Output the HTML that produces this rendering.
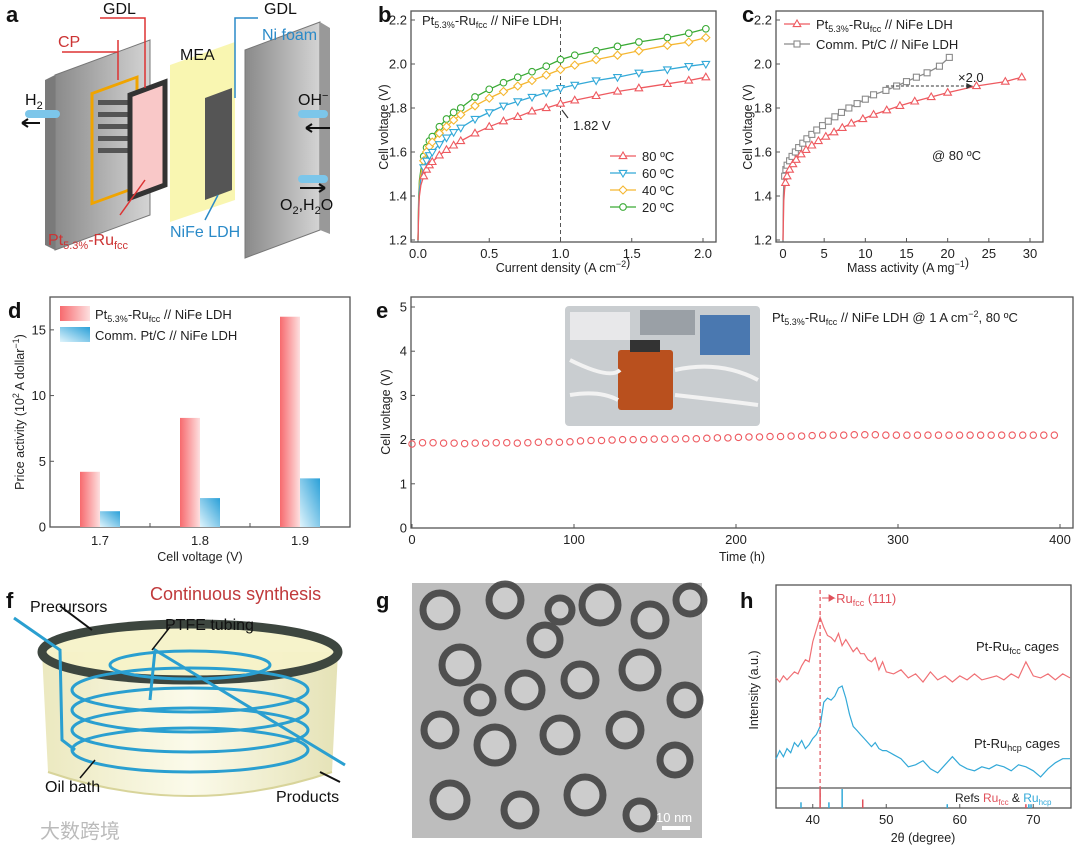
<!DOCTYPE html>
<html><head><meta charset="utf-8"><style>
html,body{margin:0;padding:0;background:#fff;}
svg{display:block;font-family:"Liberation Sans","Noto Sans CJK SC",sans-serif;}
.tk{font-size:13px;fill:#222;}
.at{font-size:12.5px;fill:#222;}
.pl{font-size:22px;font-weight:bold;fill:#111;}
</style></head><body>
<svg id="fig" width="1080" height="856" viewBox="0 0 1080 856" xmlns="http://www.w3.org/2000/svg">
<defs>
<linearGradient id="gr" x1="0" x2="1"><stop offset="0" stop-color="#f76a6e"/><stop offset="1" stop-color="#fde0e0"/></linearGradient>
<linearGradient id="gb" x1="1" x2="0" y1="0" y2="1"><stop offset="0" stop-color="#2aa0d8"/><stop offset="1" stop-color="#e0f4fc"/></linearGradient>
<linearGradient id="plate" x1="0" x2="1"><stop offset="0" stop-color="#8a8a8a"/><stop offset="1" stop-color="#d4d4d4"/></linearGradient>
<linearGradient id="oil" x1="0" x2="1"><stop offset="0" stop-color="#e9e6b8"/><stop offset="0.5" stop-color="#fbfae8"/><stop offset="1" stop-color="#e2dfae"/></linearGradient>
</defs>

<!-- Panel a schematic -->
<g>
<text class="pl" x="6" y="22">a</text>
<polygon points="55,75 150,40 150,215 55,250" fill="url(#plate)" stroke="#777"/>
<polygon points="45,80 55,75 55,250 45,245" fill="#7a7a7a"/>
<rect x="92" y="92" width="45" height="110" fill="none" stroke="#f0a400" stroke-width="3" transform="skewY(-20) translate(0,35)"/>
<g fill="#555"><rect x="98" y="100" width="32" height="5"/><rect x="98" y="112" width="32" height="5"/><rect x="98" y="124" width="32" height="5"/><rect x="98" y="136" width="32" height="5"/><rect x="98" y="148" width="32" height="5"/></g>
<polygon points="130,95 165,82 165,185 130,198" fill="#f9c8c8" stroke="#333" stroke-width="5"/>
<polygon points="170,65 235,42 235,200 170,222" fill="#f8f5a8" opacity="0.9"/>
<polygon points="205,98 232,88 232,190 205,200" fill="#555"/>
<polygon points="245,50 320,22 320,230 245,258" fill="url(#plate)" stroke="#777"/>
<polygon points="320,22 330,28 330,234 320,230" fill="#999"/>
<rect x="25" y="110" width="35" height="8" rx="4" fill="#7cc6ea"/>
<rect x="298" y="110" width="30" height="8" rx="4" fill="#7cc6ea"/>
<rect x="298" y="175" width="30" height="8" rx="4" fill="#7cc6ea"/>
<path d="M40 123 H22 M22 123 l6 -4 M22 123 l6 4" stroke="#111" stroke-width="2" fill="none"/>
<path d="M306 128 H330 M306 128 l6 -4 M306 128 l6 4" stroke="#111" stroke-width="2" fill="none"/>
<path d="M300 188 H325 M325 188 l-6 -4 M325 188 l-6 4" stroke="#111" stroke-width="2" fill="none"/>
<path d="M62 52 H118 V40 M118 52 V80" stroke="#d33" stroke-width="1.5" fill="none"/>
<path d="M100 18 H145 V88" stroke="#d33" stroke-width="1.5" fill="none"/>
<path d="M258 18 H235 V98" stroke="#2a8ac8" stroke-width="1.5" fill="none"/>
<path d="M120 215 L145 180" stroke="#d33" stroke-width="1.5"/>
<path d="M205 220 L218 195" stroke="#2a8ac8" stroke-width="1.5"/>
<text x="103" y="14" font-size="16" fill="#111">GDL</text>
<text x="58" y="47" font-size="16" fill="#c33">CP</text>
<text x="180" y="60" font-size="16" fill="#111">MEA</text>
<text x="264" y="14" font-size="16" fill="#111">GDL</text>
<text x="262" y="40" font-size="16" fill="#2a8ac8">Ni foam</text>
<text x="25" y="105" font-size="16" fill="#111">H<tspan font-size="11" dy="4">2</tspan></text>
<text x="298" y="105" font-size="16" fill="#111">OH<tspan font-size="11" dy="-6">−</tspan></text>
<text x="280" y="210" font-size="16" fill="#111">O<tspan font-size="11" dy="4">2</tspan><tspan dy="-4">,H</tspan><tspan font-size="11" dy="4">2</tspan><tspan dy="-4">O</tspan></text>
<text x="170" y="237" font-size="16" fill="#2a8ac8">NiFe LDH</text>
<text x="48" y="245" font-size="16" fill="#c33">Pt<tspan font-size="11" dy="4">5.3%</tspan><tspan dy="-4">-Ru</tspan><tspan font-size="11" dy="4">fcc</tspan></text>
</g>

<!-- Panel f schematic -->
<g>
<text class="pl" x="6" y="608">f</text>
<path d="M42 652 L48 772 Q190 820 332 772 L338 652 Z" fill="url(#oil)" opacity="0.9"/>
<path d="M48 772 Q190 820 332 772" fill="none" stroke="#d8d49a" stroke-width="2"/>
<ellipse cx="190" cy="652" rx="148" ry="28" fill="#f5f2c8" opacity="0.95"/>
<ellipse cx="190" cy="652" rx="148" ry="28" fill="none" stroke="#3d463f" stroke-width="9"/>
<g fill="none" stroke="#2a9fd0" stroke-width="3">
<ellipse cx="190" cy="690" rx="118" ry="22"/><ellipse cx="190" cy="710" rx="118" ry="22"/><ellipse cx="190" cy="730" rx="118" ry="22"/><ellipse cx="190" cy="750" rx="118" ry="22"/><ellipse cx="190" cy="665" rx="80" ry="14"/>
<path d="M14 618 L60 650 L62 740 L75 750"/>
<path d="M150 700 L155 650 L345 765"/>
</g>
<path d="M60 606 L92 630" stroke="#111" stroke-width="2"/>
<path d="M320 772 L340 782" stroke="#111" stroke-width="2"/>
<path d="M170 627 L152 650" stroke="#111" stroke-width="1.5"/>
<path d="M80 778 L95 760" stroke="#111" stroke-width="1.5"/>
<text x="150" y="600" font-size="18" fill="#c0393b">Continuous synthesis</text>
<text x="30" y="612" font-size="16" fill="#111">Precursors</text>
<text x="165" y="630" font-size="16" fill="#111">PTFE tubing</text>
<text x="45" y="792" font-size="16" fill="#111">Oil bath</text>
<text x="276" y="802" font-size="16" fill="#111">Products</text>
<text x="40" y="838" font-size="20" fill="#bbb">大数跨境</text>
</g>

<!-- Panel g TEM -->
<g>
<text class="pl" x="376" y="608">g</text>
<rect x="412" y="583" width="290" height="255" fill="#bdbdbd"/>
<g id="tem" fill="#cfcfcf" stroke="#3c3c3c" stroke-width="7" opacity="0.85"></g>
<rect x="662" y="826" width="28" height="4" fill="#fff"/>
<text x="656" y="822" font-size="13" fill="#fff">10 nm</text>
</g>

<g id="charts"></g>
</svg>
<script>
// ---------- DATA ----------
const bJ = [0,0.005,0.01,0.02,0.04,0.06,0.08,0.1,0.15,0.2,0.25,0.3,0.4,0.5,0.6,0.7,0.8,0.9,1.0,1.1,1.25,1.4,1.55,1.75,1.9,2.02];
const b80 = [1.2,1.33,1.40,1.45,1.49,1.52,1.54,1.555,1.585,1.61,1.63,1.65,1.685,1.715,1.74,1.76,1.785,1.80,1.82,1.835,1.855,1.875,1.89,1.91,1.925,1.94];
const b60 = [1.2,1.36,1.43,1.48,1.53,1.56,1.585,1.60,1.635,1.665,1.69,1.71,1.75,1.78,1.81,1.83,1.85,1.87,1.89,1.905,1.925,1.94,1.96,1.975,1.99,2.00];
const b40 = [1.2,1.38,1.45,1.50,1.56,1.60,1.625,1.645,1.685,1.715,1.745,1.77,1.81,1.845,1.875,1.90,1.925,1.95,1.975,1.995,2.02,2.04,2.06,2.085,2.10,2.12];
const b20 = [1.2,1.40,1.47,1.52,1.58,1.62,1.65,1.67,1.715,1.75,1.78,1.80,1.85,1.885,1.915,1.94,1.965,1.99,2.02,2.04,2.06,2.08,2.10,2.12,2.14,2.16];
const bYTicks = [1.2,1.4,1.6,1.8,2.0,2.2];
const bXTicks = [0,0.5,1.0,1.5,2.0];
const bLegend = ["80 ºC","60 ºC","40 ºC","20 ºC"];

const cRedX = [0,0.1,0.2,0.3,0.5,0.8,1.2,1.6,2.2,2.8,3.5,4.3,5.2,6.2,7.2,8.3,9.7,11,12.6,14.2,16,18,20,23.5,27,29];
const cRedV = [1.2,1.38,1.43,1.46,1.49,1.52,1.545,1.565,1.59,1.61,1.63,1.65,1.67,1.69,1.71,1.73,1.75,1.77,1.79,1.81,1.83,1.85,1.87,1.90,1.92,1.94];
const cGrayX = [0,0.05,0.1,0.2,0.35,0.5,0.8,1.1,1.5,1.9,2.4,2.9,3.5,4.1,4.8,5.5,6.3,7.1,8,9,10,11,12.5,13.8,15,16.2,17.5,19,20.2];
const cGrayV = [1.2,1.4,1.45,1.49,1.52,1.54,1.56,1.58,1.60,1.62,1.64,1.66,1.68,1.70,1.72,1.74,1.76,1.78,1.80,1.82,1.84,1.86,1.88,1.90,1.92,1.94,1.96,1.99,2.03];
const cXTicks = [0,5,10,15,20,25,30];

const dCats = ["1.7","1.8","1.9"];
const dPt = [4.2,8.3,16.0];
const dComm = [1.2,2.2,3.7];
const dYTicks = [0,5,10,15];

const eStep = 6.5;
const eV = [1.90,1.93,1.93,1.92,1.92,1.91,1.92,1.92,1.93,1.93,1.92,1.93,1.94,1.95,1.94,1.95,1.97,1.98,1.98,1.99,2.00,2.00,2.00,2.01,2.01,2.01,2.02,2.02,2.03,2.04,2.04,2.05,2.06,2.06,2.07,2.07,2.08,2.08,2.09,2.10,2.10,2.10,2.11,2.11,2.11,2.10,2.10,2.10,2.10,2.10,2.10,2.10,2.10,2.10,2.10,2.10,2.10,2.10,2.10,2.10,2.10,2.10];
const eXTicks = [0,100,200,300,400];
const eYTicks = [0,1,2,3,4,5];

const hTheta = [35,35.5,36,36.5,37,37.5,38,38.5,39,39.5,40,40.5,41,41.5,42,42.5,43,43.5,44,44.5,45,45.5,46,46.5,47,47.5,48,48.5,49,49.5,50,51,52,53,54,55,56,57,58,59,60,61,62,63,64,65,66,67,68,69,70,71,72,73,74,75];
const hFcc = [54,52,55,53,55,57,56,60,63,62,72,78,84,79,75,74,72,76,70,73,70,67,69,66,66,63,62,64,58,62,57,56,58,54,56,52,57,53,55,52,55,53,56,53,54,55,53,56,54,62,55,54,56,53,56,54];
const hHcp = [14,18,15,19,17,22,20,23,19,21,24,26,30,42,44,43,45,49,50,44,36,30,28,26,24,22,20,22,19,18,18,16,14,10,11,13,9,7,11,15,11,9,8,10,9,11,10,8,11,10,8,5,9,12,14,14];
const hXTicks = [40,50,60,70];
const hRefFcc = [[41,1],[46.8,0.45],[69,0.2]];
const hRefHcp = [[38.4,0.3],[42.2,0.3],[44,1],[58.3,0.2],[69.4,0.2],[69.7,0.2]];

// TEM decoration positions
const temRings = [[440,610,17],[505,600,16],[545,640,15],[600,605,18],[650,620,16],[690,600,14],[460,665,18],[525,690,17],[580,680,16],[640,670,18],[685,700,15],[440,730,16],[495,745,18],[560,735,17],[625,730,16],[675,760,15],[450,800,17],[520,810,16],[585,795,18],[640,815,14],[560,610,12],[480,700,13]];

// ---------- HELPERS ----------
const NS = "http://www.w3.org/2000/svg";
const root = document.getElementById("charts");
function mk(tag, attrs, parent, txt){
  const e = document.createElementNS(NS, tag);
  for (const k in attrs) e.setAttribute(k, attrs[k]);
  if (txt !== undefined) e.textContent = txt;
  (parent || root).appendChild(e);
  return e;
}
function lin(d0,d1,r0,r1){ return v => r0 + (v-d0)*(r1-r0)/(d1-d0); }
function marker(g, shape, x, y, col){
  let m;
  if (shape==="tri") m = mk("polygon",{points:`${x},${y-4} ${x-3.8},${y+2.6} ${x+3.8},${y+2.6}`,fill:"#fff",stroke:col,"stroke-width":1.1},g);
  else if (shape==="itri") m = mk("polygon",{points:`${x},${y+4} ${x-3.8},${y-2.6} ${x+3.8},${y-2.6}`,fill:"#fff",stroke:col,"stroke-width":1.1},g);
  else if (shape==="dia") m = mk("polygon",{points:`${x},${y-4} ${x+4},${y} ${x},${y+4} ${x-4},${y}`,fill:"#fff",stroke:col,"stroke-width":1.1},g);
  else if (shape==="sq") m = mk("rect",{x:x-3,y:y-3,width:6,height:6,fill:"#fff",stroke:col,"stroke-width":1.1},g);
  else m = mk("circle",{cx:x,cy:y,r:3.3,fill:"#fff",stroke:col,"stroke-width":1.1},g);
  
  
  return m;
}
function frame(x0,y0,x1,y1,g){
  const r = mk("rect",{x:x0,y:y0,width:x1-x0,height:y1-y0,fill:"none",stroke:"#555","stroke-width":1.3},g);
  
  
}
function yTicks(vals, ys, x0, g, fmt){
  vals.forEach(v=>{
    const y = ys(v);
    mk("line",{x1:x0,x2:x0+4,y1:y,y2:y,stroke:"#555"},g);
    const t = mk("text",{x:x0-4,y:y+4.5,"text-anchor":"end",class:"tk"},g,fmt(v));
    
    
  });
}
function xTicks(vals, xs, y0, g, fmt){
  vals.forEach(v=>{
    const x = xs(v);
    mk("line",{x1:x,x2:x,y1:y0,y2:y0-4,stroke:"#555"},g);
    const t = mk("text",{x:x,y:y0+16,"text-anchor":"middle",class:"tk"},g,fmt(v));
    
    
  });
}
function yTitle(x,y,txt,g){
  const t = mk("text",{x:x,y:y,"text-anchor":"middle",class:"at",transform:`rotate(-90 ${x} ${y})`},g);
  t.innerHTML = txt;
  
  
}
function xTitle(x,y,txt,g){
  const t = mk("text",{x:x,y:y,"text-anchor":"middle",class:"at"},g);
  t.innerHTML = txt;
  
  
}
function series(g, xs, ys, X, Y, col, shape, name, every){
  const d = X.map((v,i)=>(i?"L":"M")+xs(v).toFixed(1)+" "+ys(Y[i]).toFixed(1)).join(" ");
  const p = mk("path",{d:d,fill:"none",stroke:col,"stroke-width":1.3},g);
  
  
  X.forEach((v,i)=>{ if(i>=(every||0)) marker(g,shape,xs(v),ys(Y[i]),col); });
}
const PT = 'Pt<tspan font-size="9" dy="3">5.3%</tspan><tspan dy="-3">-Ru</tspan><tspan font-size="9" dy="3">fcc</tspan><tspan dy="-3"> // NiFe LDH</tspan>';

// ---------- TEM ----------
const tem = document.getElementById("tem");
temRings.forEach(r=>{
  const c = mk("circle",{cx:r[0],cy:r[1],r:r[2]},tem);
  
  
});

// ---------- PANEL B ----------
(function(){
  const g = mk("g",{});
  
  
  mk("text",{x:378,y:22,class:"pl"},g,"b");
  const xs = lin(0,2,418,703), ys = lin(1.2,2.2,240,20);
  frame(411,11,716,242,g);
  yTicks(bYTicks, ys, 411, g, v=>v.toFixed(1));
  xTicks(bXTicks, xs, 242, g, v=>v.toFixed(1));
  yTitle(388,127,"Cell voltage (V)",g);
  xTitle(563,272,'Current density (A cm<tspan font-size="9" dy="-5">−2</tspan>)',g);
  mk("line",{x1:xs(1),x2:xs(1),y1:20,y2:242,stroke:"#555","stroke-dasharray":"4,3"},g);
  const ser = [[b20,"#3aaa35","circ"],[b40,"#f5b731","dia"],[b60,"#33a9d8","itri"],[b80,"#ee5a60","tri"]];
  ser.forEach(s=>series(g,xs,ys,bJ,s[0],s[1],s[2],"curve-"+s[1].slice(1),4));
  mk("path",{d:"M568 118 L562 110",stroke:"#333","stroke-width":1.2},g);
  mk("text",{x:573,y:130,class:"tk"},g,"1.82 V");
  const t = mk("text",{x:422,y:25,class:"tk"},g); t.innerHTML = PT;
  const lc = ["#ee5a60","#33a9d8","#f5b731","#3aaa35"], ls = ["tri","itri","dia","circ"];
  bLegend.forEach((l,i)=>{
    const y = 156+i*17;
    mk("line",{x1:610,x2:636,y1:y,y2:y,stroke:lc[i],"stroke-width":1.3},g);
    marker(g,ls[i],623,y,lc[i]);
    const lt = mk("text",{x:642,y:y+5,class:"tk"},g,l);
    
    
  });
})();

// ---------- PANEL C ----------
(function(){
  const g = mk("g",{});
  
  
  mk("text",{x:742,y:22,class:"pl"},g,"c");
  const xs = lin(0,30,783,1030), ys = lin(1.2,2.2,240,20);
  frame(776,11,1043,242,g);
  yTicks(bYTicks, ys, 776, g, v=>v.toFixed(1));
  xTicks(cXTicks, xs, 242, g, v=>String(v));
  yTitle(752,127,"Cell voltage (V)",g);
  xTitle(908,272,'Mass activity (A mg<tspan font-size="9" dy="-5">−1</tspan>)',g);
  series(g,xs,ys,cGrayX,cGrayV,"#8a8a8a","sq","curve-comm",3);
  series(g,xs,ys,cRedX,cRedV,"#ee5a60","tri","curve-pt",3);
  mk("line",{x1:xs(12.5),x2:xs(23),y1:ys(1.9),y2:ys(1.9),stroke:"#333","stroke-dasharray":"3,2"},g);
  mk("path",{d:`M${xs(23)} ${ys(1.9)} l-6 -3 v6 z`,fill:"#333"},g);
  mk("text",{x:958,y:82,class:"tk"},g,"×2.0");
  mk("text",{x:932,y:160,class:"tk"},g,"@ 80 ºC");
  mk("line",{x1:784,x2:810,y1:24,y2:24,stroke:"#ee5a60","stroke-width":1.3},g);
  marker(g,"tri",797,24,"#ee5a60");
  const t1 = mk("text",{x:816,y:29,class:"tk"},g); t1.innerHTML = PT;
  mk("line",{x1:784,x2:810,y1:44,y2:44,stroke:"#8a8a8a","stroke-width":1.3},g);
  marker(g,"sq",797,44,"#8a8a8a");
  mk("text",{x:816,y:49,class:"tk"},g,"Comm. Pt/C // NiFe LDH");
})();

// ---------- PANEL D ----------
(function(){
  const g = mk("g",{});
  
  
  mk("text",{x:8,y:318,class:"pl"},g,"d");
  const ys = lin(0,17.5,527,297);
  const xc = i => 100 + i*100;
  frame(50,297,350,527,g);
  yTicks(dYTicks, ys, 50, g, v=>String(v));
  dCats.forEach((c,i)=>{
    mk("line",{x1:xc(i)+50,x2:xc(i)+50,y1:527,y2:523,stroke:"#555"},g);
    const t = mk("text",{x:xc(i),y:545,"text-anchor":"middle",class:"tk"},g,c);
    
    
    const r1 = mk("rect",{x:xc(i)-20,y:ys(dPt[i]),width:20,height:527-ys(dPt[i]),fill:"url(#gr)"},g);
    
    
    const r2 = mk("rect",{x:xc(i),y:ys(dComm[i]),width:20,height:527-ys(dComm[i]),fill:"url(#gb)"},g);
    
    
  });
  yTitle(24,412,'Price activity (10<tspan font-size="9" dy="-5">2</tspan><tspan dy="5"> A dollar</tspan><tspan font-size="9" dy="-5">−1</tspan><tspan dy="5">)</tspan>',g);
  xTitle(200,561,"Cell voltage (V)",g);
  mk("rect",{x:60,y:306,width:30,height:15,fill:"url(#gr)"},g);
  const t1 = mk("text",{x:95,y:319,class:"tk"},g); t1.innerHTML = PT;
  mk("rect",{x:60,y:327,width:30,height:15,fill:"url(#gb)"},g);
  mk("text",{x:95,y:340,class:"tk"},g,"Comm. Pt/C // NiFe LDH");
})();

// ---------- PANEL E ----------
(function(){
  const g = mk("g",{});
  
  
  mk("text",{x:376,y:318,class:"pl"},g,"e");
  const xs = lin(0,400,412,1060), ys = lin(0,5,528,307);
  frame(411,297,1073,528,g);
  yTicks(eYTicks, ys, 411, g, v=>String(v));
  xTicks(eXTicks, xs, 528, g, v=>String(v));
  yTitle(390,412,"Cell voltage (V)",g);
  xTitle(742,561,"Time (h)",g);
  const ph = mk("g",{},g);
  
  
  mk("rect",{x:565,y:306,width:195,height:120,fill:"#c9cdd0",rx:4},ph);
  mk("rect",{x:570,y:312,width:60,height:28,fill:"#e8e8ea"},ph);
  mk("rect",{x:640,y:310,width:55,height:25,fill:"#9aa0a6"},ph);
  mk("rect",{x:700,y:315,width:50,height:40,fill:"#4a78b0"},ph);
  mk("rect",{x:618,y:350,width:55,height:60,fill:"#b9501e",rx:3},ph);
  mk("rect",{x:630,y:340,width:30,height:12,fill:"#333"},ph);
  mk("path",{d:"M570 360 Q610 380 620 370 M675 370 Q720 360 758 380 M570 395 Q600 390 618 400 M675 395 Q720 400 758 405",stroke:"#f2f2f2","stroke-width":4,fill:"none"},ph);
  const t1 = mk("text",{x:772,y:322,class:"tk"},g);
  t1.innerHTML = PT + '<tspan> @ 1 A cm</tspan><tspan font-size="9" dy="-5">−2</tspan><tspan dy="5">, 80 ºC</tspan>';
  eV.forEach((v,i)=>{
    const c = mk("circle",{cx:xs(i*eStep),cy:ys(v),r:3.2,fill:"none",stroke:"#ee5a60","stroke-width":1.1},g);
    
    
  });
})();

// ---------- PANEL H ----------
(function(){
  const g = mk("g",{});
  
  
  mk("text",{x:740,y:608,class:"pl"},g,"h");
  const xs = lin(35,75,776,1070), ys = lin(0,100,787,585);
  frame(776,585,1071,808,g);
  mk("line",{x1:776,x2:1071,y1:788,y2:788,stroke:"#555","stroke-width":1.2},g);
  xTicks(hXTicks, xs, 808, g, v=>String(v));
  yTitle(758,690,"Intensity (a.u.)",g);
  xTitle(923,842,"2θ (degree)",g);
  const mkLine = (Y,col,name)=>{
    const d = hTheta.map((v,i)=>(i?"L":"M")+xs(v).toFixed(1)+" "+ys(Y[i]).toFixed(1)).join(" ");
    const p = mk("path",{d:d,fill:"none",stroke:col,"stroke-width":1.2},g);
    
    
  };
  mkLine(hFcc,"#f07075","xrd-fcc");
  mkLine(hHcp,"#33a9d8","xrd-hcp");
  mk("line",{x1:xs(41),x2:xs(41),y1:590,y2:808,stroke:"#e0505a","stroke-dasharray":"4,3","stroke-width":1.2},g);
  mk("path",{d:`M${xs(41)+2} 598 H${xs(41)+14} l-5 -3 v6 l5 -3`,stroke:"#e0505a",fill:"#e0505a"},g);
  const tr = mk("text",{x:xs(41)+16,y:603,"font-size":13,fill:"#e0505a"},g);
  tr.innerHTML = 'Ru<tspan font-size="9" dy="3">fcc</tspan><tspan dy="-3"> (111)</tspan>';
  const t1 = mk("text",{x:976,y:651,class:"tk"},g); t1.innerHTML='Pt-Ru<tspan font-size="9" dy="3">fcc</tspan><tspan dy="-3"> cages</tspan>';
  const t2 = mk("text",{x:974,y:748,class:"tk"},g); t2.innerHTML='Pt-Ru<tspan font-size="9" dy="3">hcp</tspan><tspan dy="-3"> cages</tspan>';
  const t3 = mk("text",{x:955,y:802,"font-size":12,fill:"#222"},g);
  t3.innerHTML='Refs <tspan fill="#e0505a">Ru</tspan><tspan fill="#e0505a" font-size="8" dy="3">fcc</tspan><tspan dy="-3"> &amp; </tspan><tspan fill="#33a9d8">Ru</tspan><tspan fill="#33a9d8" font-size="8" dy="3">hcp</tspan>';
  const stick = (arr,col,name)=>arr.forEach(s=>{
    const l = mk("line",{x1:xs(s[0]),x2:xs(s[0]),y1:808,y2:808-s[1]*19,stroke:col,"stroke-width":1.5},g);
    
    
  });
  stick(hRefHcp,"#33a9d8","ref-hcp-line");
  stick(hRefFcc,"#e0505a","ref-fcc-line");
})();
</script>
</body></html>
